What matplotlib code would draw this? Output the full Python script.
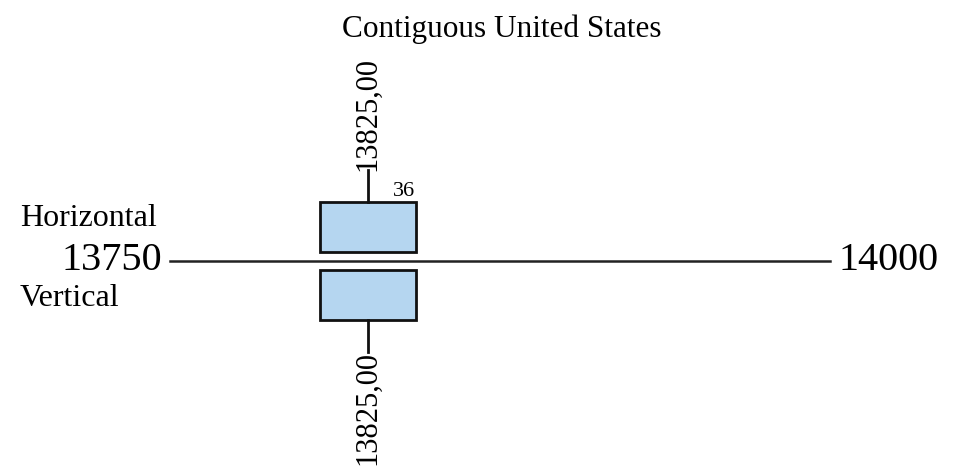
import matplotlib.pyplot as plt
from matplotlib.patches import Rectangle

plt.rcParams['font.family'] = ['Liberation Serif', 'DejaVu Serif']

# range of the axis and the two boxes (horizontal / vertical)
axis_min = 13750
axis_max = 14000
box_names = ['Horizontal', 'Vertical']
box_start = [13807, 13807]
box_end = [13843, 13843]
box_mark = [13825.0, 13825.0]
box_width_label = '36'

fig = plt.figure(figsize=(9.54, 4.70), dpi=100)
ax = fig.add_axes([170 / 954, 0, 660 / 954, 1])
ax.set_xlim(axis_min, axis_max)
ax.set_ylim(-209, 261)
ax.axis('off')

ax.plot([axis_min, axis_max], [0, 0], color='#222222', lw=1.8, clip_on=False)
ax.annotate(str(axis_min), (axis_min, 0), xytext=(-6, 0), textcoords='offset points',
            ha='right', va='center', fontsize=29)
ax.annotate(str(axis_max), (axis_max, 0), xytext=(6, 0), textcoords='offset points',
            ha='left', va='center', fontsize=29)

fill = '#b5d6f0'
for i, name in enumerate(box_names):
    sign = 1 if i == 0 else -1
    y0 = 9 if i == 0 else -59
    ax.add_patch(Rectangle((box_start[i], y0), box_end[i] - box_start[i], 50,
                           facecolor=fill, edgecolor='#111111', lw=2, clip_on=False))
    ytop = 59 * sign
    yend = 91 * sign
    ax.plot([box_mark[i], box_mark[i]], [ytop, yend], color='#111111', lw=2, clip_on=False)
    label = f'{box_mark[i]:.2f}'.replace('.', ',')
    ax.text(box_mark[i], yend - 1 * sign, label, rotation=90, ha='center',
            va='bottom' if i == 0 else 'top', fontsize=22)

ax.text(box_end[0], 60, box_width_label, ha='right', va='bottom', fontsize=16)

fig.text(20 / 954, 1 - 218 / 470, box_names[0], ha='left', va='center', fontsize=23)
fig.text(20 / 954, 1 - 298 / 470, box_names[1], ha='left', va='center', fontsize=23)
fig.text(502 / 954, 1 - 29 / 470, 'Contiguous United States', ha='center', va='center', fontsize=22.5)

fig.savefig('out.png', dpi=100)
